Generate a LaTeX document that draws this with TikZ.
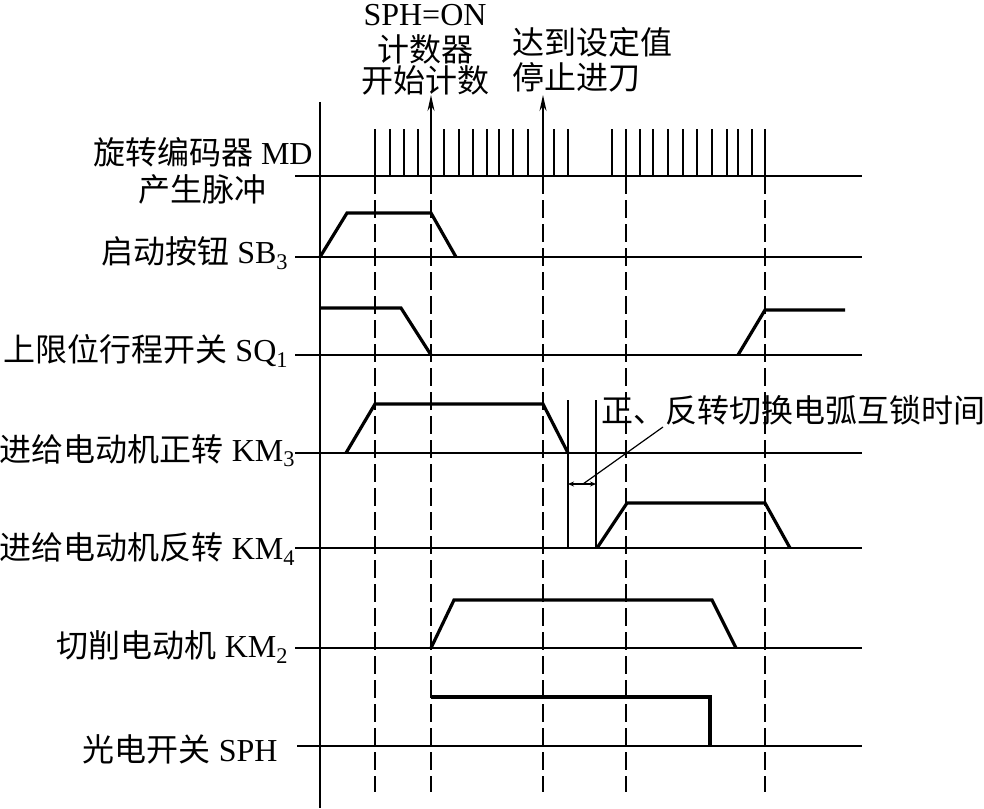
\documentclass[tikz,border=0pt]{standalone}
\usepackage{fontspec}
\setmainfont{Liberation Serif}
\newfontfamily\zhfont{Noto Sans CJK SC}
\usepackage{tikz}
\usetikzlibrary{arrows.meta, positioning, calc}
\definecolor{mydark}{RGB}{0,0,0}
\tikzset{
  baseline/.style={line width=1pt, color=mydark},
  wave/.style={line width=1.6pt, color=mydark, line join=miter},
  pulse/.style={line width=0.8pt, color=mydark},
  guide/.style={dash pattern=on 9pt off 3pt, line width=0.75pt, color=mydark},
  siglabel/.style={anchor=east, inner sep=0pt, font=\fontsize{16}{18.5}\selectfont},
  toplabel/.style={inner sep=0pt, font=\fontsize{16}{15.5}\selectfont},
  uparrow/.style={-{Stealth[length=8pt, width=3.5pt]}, line width=0.8pt, color=mydark},
  gaparrow/.style={{Stealth[length=3pt, width=2.5pt]}-{Stealth[length=3pt, width=2.5pt]}, line width=0.6pt, color=mydark}
}

\begin{document}
\begin{tikzpicture}[x=0.5pt, y=-0.5pt]
  \useasboundingbox (0,0) rectangle (984,808);
  % Signal labels
  \node[siglabel, align=center] (lblMD) at (313,171) {{\zhfont 旋转编码器} MD\\{\zhfont 产生脉冲}};
  \node[siglabel] (lblSB)  at (289,253) {{\zhfont 启动按钮} SB\textsubscript{3}};
  \node[siglabel] (lblSQ)  at (289,351) {{\zhfont 上限位行程开关} SQ\textsubscript{1}};
  \node[siglabel] (lblKMa) at (296,451) {{\zhfont 进给电动机正转} KM\textsubscript{3}};
  \node[siglabel] (lblKMb) at (296,549) {{\zhfont 进给电动机反转} KM\textsubscript{4}};
  \node[siglabel] (lblKMc) at (289,647) {{\zhfont 切削电动机} KM\textsubscript{2}};
  \node[siglabel] (lblSPH) at (278,749) {{\zhfont 光电开关} SPH};
  % Top notes
  \node[toplabel, align=center] (noteON) at (425,49.5) {SPH=ON\\[2.5pt]{\zhfont 计数器}\\{\zhfont 开始计数}};
  \node[toplabel, align=left, anchor=west, font=\fontsize{16}{17.5}\selectfont] (noteSTOP) at (512,60) {{\zhfont 达到设定值}\\{\zhfont 停止进刀}};
  % Time axis and base lines
  \draw[baseline] (320,102) -- (320,808);
  \foreach \y in {176,257,355,453,548,648}
    \draw[baseline] (295,\y) -- (862,\y);
  \draw[baseline] (297,746) -- (862,746);
  % Guide lines
  \foreach \x in {375,431,543,626,765}
    \draw[guide] (\x,176) -- (\x,792);
  % Encoder pulses
  \foreach \x in {375,390,404,418,444,459,473,487,499,513,528,554,568,
                  612,626,640,653,668,683,697,712,727,738,752,765}
    \draw[pulse] (\x,176) -- (\x,129);
  \draw[uparrow] (431,176) -- (431,95);
  \draw[uparrow] (543,176) -- (543,95);
  % SB3
  \draw[wave] (320,257) -- (347,213) -- (431,213) -- (456,257);
  % SQ1
  \draw[wave] (320,308) -- (401,308) -- (431,355);
  \draw[wave] (738,355) -- (765,310) -- (845,310);
  % KM3
  \draw[wave] (346,453) -- (375,404) -- (543,404) -- (568,453);
  % KM4
  \draw[wave] (597,548) -- (627,503) -- (765,503) -- (790,548);
  % KM2
  \draw[wave] (431,648) -- (454,600) -- (712,600) -- (736,648);
  % SPH
  \draw[wave] (431,697) -- (710,697) -- (710,746);
  % Interlock time
  \draw[pulse] (568,400) -- (568,548);
  \draw[pulse] (596,400) -- (596,548);
  \draw[gaparrow] (568,484) -- (596,484);
  \node[toplabel, anchor=west] (noteLOCK) at (601,410) {\zhfont 正、反转切换电弧互锁时间};
  \coordinate (lockgap) at (583,484);
  \coordinate (locktip) at (663,427);
  \draw[line width=0.6pt] (lockgap) -- (locktip);
\end{tikzpicture}
\end{document}
